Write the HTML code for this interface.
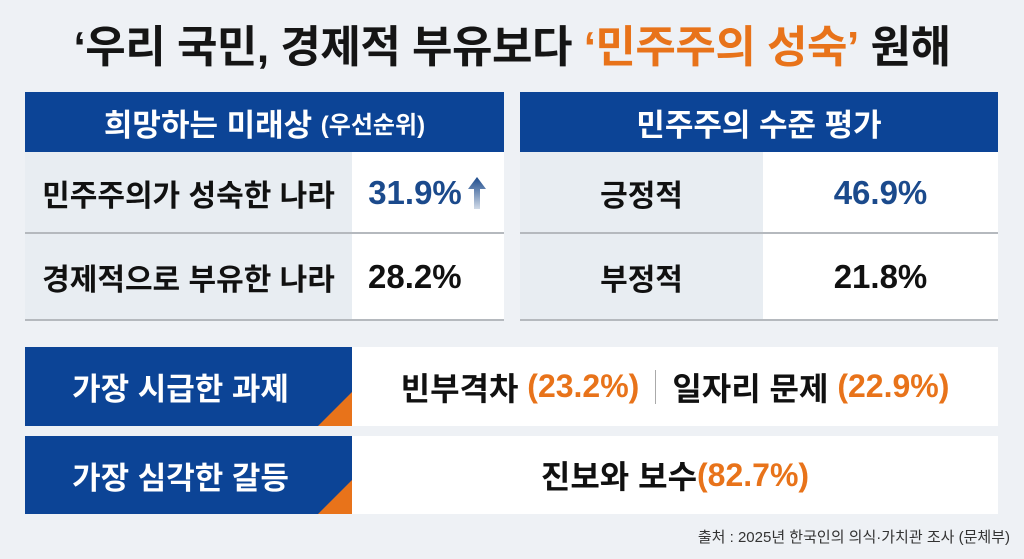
<!DOCTYPE html>
<html><head><meta charset="utf-8"><style>
*{margin:0;padding:0;box-sizing:border-box}
body{width:1024px;height:559px;background:#eef1f5;font-family:"Liberation Sans","Noto Sans CJK KR",sans-serif;position:relative;overflow:hidden;font-weight:bold}
.a{position:absolute;display:flex;align-items:center;justify-content:center;white-space:nowrap}
.hd{background:#0c4496;color:#fff;font-size:31px}
.lb{background:#e8edf2;color:#111;font-size:30px}
.vl{background:#fff;color:#111;font-size:33px}
.ln{position:absolute;height:2px;background:#b5b9be}
.or{color:#e8731a}
</style></head><body>
<div class="a" style="left:0;top:12px;width:1024px;height:62px;font-size:44px;color:#151515;letter-spacing:-0.5px">‘우리 국민, 경제적 부유보다&nbsp;<span class="or">‘민주주의 성숙’</span>&nbsp;원해</div>

<div class="a hd" style="left:25px;top:92px;width:479px;height:60px">희망하는 미래상&nbsp;<span style="font-size:24px">(우선순위)</span></div>
<div class="a lb" style="left:25px;top:152px;width:327px;height:81px">민주주의가 성숙한 나라</div>
<div class="a vl" style="left:352px;top:152px;width:152px;height:81px;color:#1b4a8c">31.9%<svg width="22" height="36" viewBox="0 0 22 36" style="margin-left:4px"><defs><linearGradient id="g" x1="0" y1="0" x2="0" y2="1"><stop offset="0" stop-color="#1b4a8c"/><stop offset="1" stop-color="#1b4a8c" stop-opacity="0.2"/></linearGradient></defs><path d="M11 2 L20 14 L14 14 L14 34 L8 34 L8 14 L2 14 Z" fill="url(#g)"/></svg></div>
<div class="ln" style="left:25px;top:232px;width:479px"></div>
<div class="a lb" style="left:25px;top:234px;width:327px;height:85px">경제적으로 부유한 나라</div>
<div class="a vl" style="left:352px;top:234px;width:152px;height:85px;justify-content:flex-start;padding-left:16px">28.2%</div>
<div class="ln" style="left:25px;top:319px;width:479px"></div>

<div class="a hd" style="left:520px;top:92px;width:478px;height:60px">민주주의 수준 평가</div>
<div class="a lb" style="left:520px;top:152px;width:243px;height:81px">긍정적</div>
<div class="a vl" style="left:763px;top:152px;width:235px;height:81px;color:#1b4a8c">46.9%</div>
<div class="ln" style="left:520px;top:232px;width:478px"></div>
<div class="a lb" style="left:520px;top:234px;width:243px;height:85px">부정적</div>
<div class="a vl" style="left:763px;top:234px;width:235px;height:85px">21.8%</div>
<div class="ln" style="left:520px;top:319px;width:478px"></div>

<div class="a hd" style="left:25px;top:347px;width:327px;height:79px;font-size:31px;padding-right:16px">가장 시급한 과제</div>
<div style="position:absolute;left:318px;top:392px;width:0;height:0;border-left:34px solid transparent;border-bottom:34px solid #e8731a"></div>
<div class="a" style="left:352px;top:347px;width:646px;height:79px;background:#fff;font-size:32px;color:#111">빈부격차&nbsp;<span class="or">(23.2%)</span><span style="display:inline-block;width:1px;height:34px;background:#aaa;margin:0 16px"></span>일자리 문제&nbsp;<span class="or">(22.9%)</span></div>

<div class="a hd" style="left:25px;top:436px;width:327px;height:78px;font-size:31px;padding-right:16px">가장 심각한 갈등</div>
<div style="position:absolute;left:318px;top:480px;width:0;height:0;border-left:34px solid transparent;border-bottom:34px solid #e8731a"></div>
<div class="a" style="left:352px;top:436px;width:646px;height:78px;background:#fff;font-size:32px;color:#111">진보와 보수<span class="or">(82.7%)</span></div>

<div class="a" style="left:640px;top:522px;width:370px;height:28px;justify-content:flex-end;font-size:15px;color:#333;font-weight:normal">출처 : 2025년 한국인의 의식·가치관 조사 (문체부)</div>
</body></html>
